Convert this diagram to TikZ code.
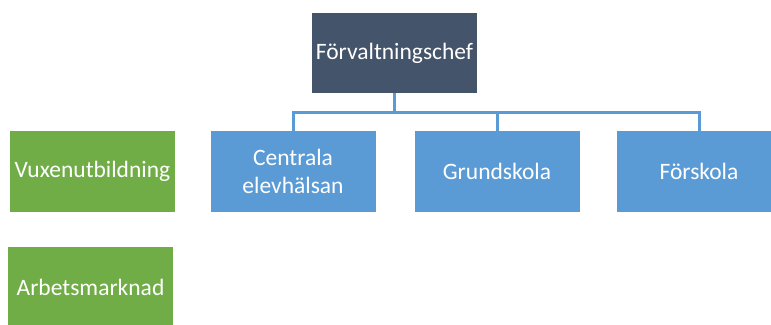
\documentclass[tikz,border=0pt]{standalone}
\usepackage{fontspec}
\setmainfont{Carlito}
\definecolor{chefcol}{HTML}{44546A}
\definecolor{bluecol}{HTML}{5B9BD5}
\definecolor{greencol}{HTML}{70AD47}
\tikzset{
  orgbox/.style={rectangle, inner sep=0pt, minimum width=165pt, minimum height=81pt, text=white, align=center, font=\fontsize{23.5}{28}\selectfont},
  chefbox/.style={orgbox, fill=chefcol, minimum height=80pt},
  unitbox/.style={orgbox, fill=bluecol},
  sidebox/.style={orgbox, fill=greencol},
  link/.style={draw=bluecol, line width=3pt}
}
\begin{document}
\begin{tikzpicture}[x=1pt,y=-1pt]
\useasboundingbox (0,0) rectangle (771,324);
\clip (0,0) rectangle (771,324);
\node[chefbox] (chef) at (394.5,53) {Förvaltningschef};
\node[unitbox] (cen) at (293,171.5) {Centrala\\elevhälsan};
\node[unitbox] (grund) at (497,171.5) {Grundskola};
\node[unitbox] (fors) at (699,171.5) {Förskola};
\node[sidebox] (vux) at (92.5,171.5) {Vuxenutbildning};
\node[sidebox] (arb) at (90.5,287.5) {Arbetsmarknad};
\coordinate (bus) at (394.5,112.5);
\draw[link] (chef.south) -- (bus);
\draw[link] (bus) -| (cen.north);
\draw[link] (bus) -| (grund.north);
\draw[link] (bus) -| (fors.north);
\end{tikzpicture}
\end{document}
